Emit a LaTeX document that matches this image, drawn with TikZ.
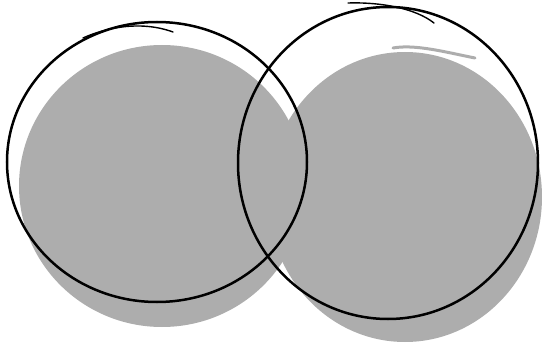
\documentclass[tikz,border=0pt]{standalone}
\begin{document}
\begin{tikzpicture}[x=1pt,y=-1pt,
  blob/.style={fill=blobgray,draw=none},
  ring/.style={draw=black,line width=2.5pt},
  sketch/.style={draw=black,line width=1.4pt,line cap=round}]
\definecolor{blobgray}{HTML}{ADADAD}
\useasboundingbox (0,0) rectangle (542,345);
% gray shadows
\fill[blob] (162,186) ellipse [x radius=143, y radius=141];
\fill[blob] (405,197) ellipse [x radius=137, y radius=145];
\draw[blobgray,line width=3pt,line cap=round] (393,48) .. controls (415,44) and (445,52) .. (475,58);
% black rings
\draw[ring] (157,162) ellipse [x radius=150, y radius=140];
\draw[ring] (388,163) ellipse [x radius=150, y radius=156];
% sketch strokes
\draw[sketch] (83,38) .. controls (105,28) and (140,20) .. (173,32);
\draw[sketch] (348,3) .. controls (380,2) and (415,8) .. (434,23);
\end{tikzpicture}
\end{document}
